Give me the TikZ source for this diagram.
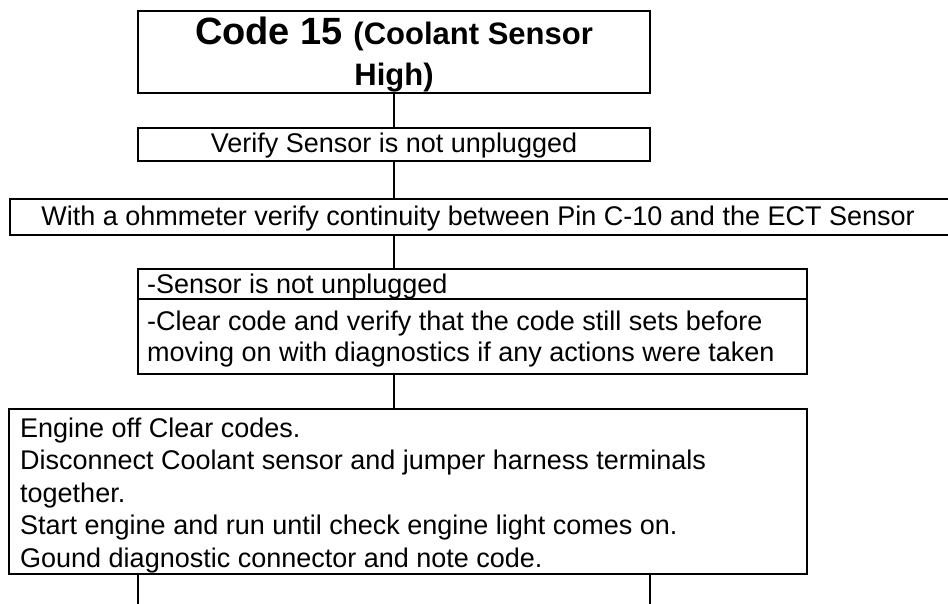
\documentclass[tikz,border=0pt]{standalone}
\usepackage{fontspec}
\setmainfont{Liberation Sans}
\begin{document}
\begin{tikzpicture}[x=1pt,y=-1pt,
  box/.style={draw=black,line width=2pt,rectangle,inner sep=0pt,fill=none},
  conn/.style={draw=black,line width=1.6pt},
  txt/.style={inner sep=0pt,font=\fontsize{27}{31}\selectfont},
  ltxt/.style={txt,anchor=base west},
  ctxt/.style={txt,anchor=base}]
\clip (0,0) rectangle (948,604);
\fill[white] (0,0) rectangle (948,604);
% boxes
\node[box,minimum width=512pt,minimum height=82pt] (t) at (394,52) {};
\node[box,minimum width=512pt,minimum height=33pt] (v) at (394,144.5) {};
\node[box,minimum width=942pt,minimum height=36pt] (b3) at (481,217) {};
\node[box,minimum width=669pt,minimum height=105pt] (b4) at (472.5,321.5) {};
\node[box,minimum width=798pt,minimum height=165pt] (b5) at (408,491.5) {};
\coordinate (d) at (0,299);
\draw[line width=2pt] (b4.west |- d) -- (b4.east |- d);
% texts
\node[anchor=base,inner sep=0pt] (t1) at (394,45) {\bfseries\fontsize{38}{42}\selectfont Code 15 \fontsize{31}{35}\selectfont(Coolant Sensor};
\node[anchor=base,inner sep=0pt] (t2) at (394,86) {\bfseries\fontsize{31}{35}\selectfont High)};
\node[ctxt] (vt) at (394,153) {Verify Sensor is not unplugged};
\node[ctxt] (b3t) at (478,226) {With a ohmmeter verify continuity between Pin C-10 and the ECT Sensor};
\node[ltxt] (b4a) at (147,293) {-Sensor is not unplugged};
\node[ltxt] (b4b) at (147,330) {-Clear code and verify that the code still sets before};
\node[ltxt] (b4c) at (147,361) {moving on with diagnostics if any actions were taken};
\node[ltxt] (b5a) at (20,437) {Engine off Clear codes.};
\node[ltxt] (b5b) at (20,469.5) {Disconnect Coolant sensor and jumper harness terminals};
\node[ltxt] (b5c) at (20,502) {together.};
\node[ltxt] (b5d) at (20,534.5) {Start engine and run until check engine light comes on.};
\node[ltxt] (b5e) at (20,567) {Gound diagnostic connector and note code.};
% connectors
\coordinate (e1) at (138,604);
\coordinate (e2) at (650,604);
\draw[conn] (t.south) -- (v.north);
\draw[conn] (v.south) -- (v.south |- b3.north);
\draw[conn] (v.south |- b3.south) -- (v.south |- b4.north);
\draw[conn] (v.south |- b4.south) -- (v.south |- b5.north);
\draw[conn] (e1 |- b5.south) -- (e1);
\draw[conn] (e2 |- b5.south) -- (e2);
\end{tikzpicture}
\end{document}
